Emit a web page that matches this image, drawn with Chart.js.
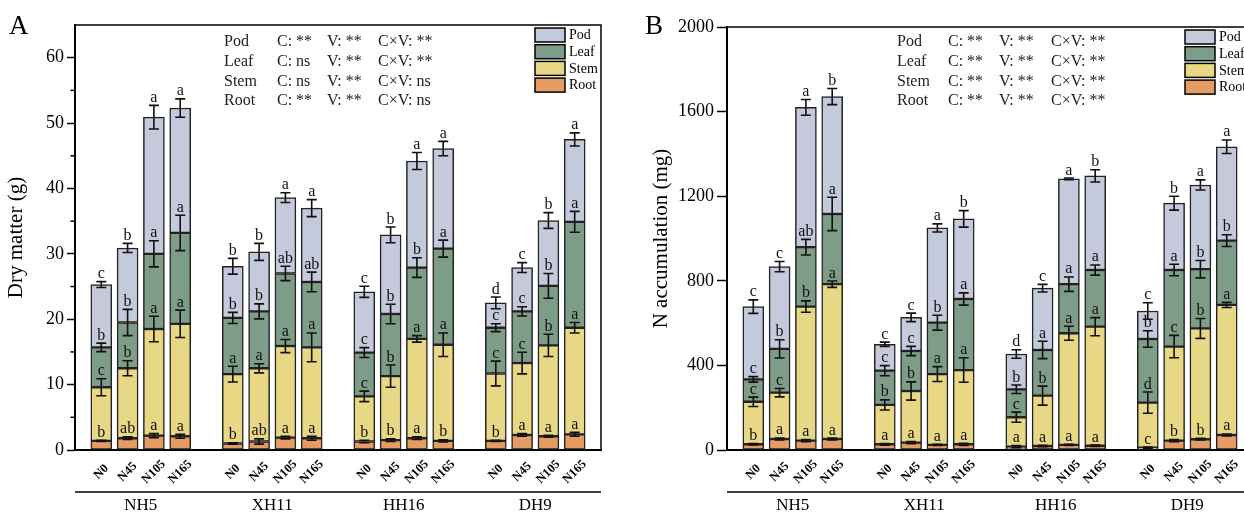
<!DOCTYPE html>
<html>
<head>
<meta charset="utf-8">
<script src="https://cdn.jsdelivr.net/npm/chart.js@4/dist/chart.umd.min.js"></script>
<style>
  html, body { margin: 0; padding: 0; background: #fff; overflow: hidden; width: 1244px; height: 515px; }
  .panel { position: absolute; top: 0; }
  #wrapA { left: 0; }
  #wrapB { left: 630px; }
</style>
</head>
<body>
<div class="panel" id="wrapA"><canvas id="chartA" width="625" height="515"></canvas></div>
<div class="panel" id="wrapB"><canvas id="chartB" width="640" height="515"></canvas></div>
<script>
const FONT = "'Liberation Serif', 'Times New Roman', serif";

const varieties = ['NH5', 'XH11', 'HH16', 'DH9'];
const nRates = ['N0', 'N45', 'N105', 'N165'];
const parts = ['Root', 'Stem', 'Leaf', 'Pod'];
const partColors = ['#e49c64', '#e8d785', '#7e9d89', '#c4c9db'];
const statRows = ['Pod', 'Leaf', 'Stem', 'Root'];

// A: dry matter (g), order NH5 N0..N165, XH11, HH16, DH9
const dmTicks = [0, 10, 20, 30, 40, 50, 60];
const dmMinorTicks = [5, 15, 25, 35, 45, 55];
const dmRoot = [1.4, 1.8, 2.2, 2.1, 1.0, 1.3, 1.9, 1.8, 1.3, 1.5, 1.8, 1.4, 1.4, 2.3, 2.1, 2.4];
const dmStem = [8.2, 10.7, 16.3, 17.2, 10.6, 11.2, 14.0, 13.9, 6.9, 9.8, 15.2, 14.7, 10.3, 11.0, 13.9, 16.3];
const dmLeaf = [6.1, 7.0, 11.5, 13.9, 8.6, 8.7, 11.1, 10.0, 6.7, 9.5, 10.9, 14.7, 7.0, 7.9, 9.1, 16.2];
const dmPod = [9.6, 11.4, 20.9, 19.1, 7.9, 9.1, 11.6, 11.3, 9.3, 12.1, 16.3, 15.3, 3.8, 6.7, 10.0, 12.6];
const dmRootErr = [0.1, 0.2, 0.3, 0.3, 0.1, 0.4, 0.2, 0.3, 0.2, 0.2, 0.2, 0.15, 0.1, 0.2, 0.15, 0.3];
const dmStemErr = [1.3, 1.15, 1.95, 2.1, 1.2, 0.7, 1.0, 2.2, 0.8, 1.7, 0.5, 1.8, 1.9, 1.65, 1.7, 0.8];
const dmLeafErr = [0.65, 2.0, 2.0, 2.7, 0.85, 1.15, 1.1, 1.5, 0.75, 1.5, 1.5, 1.3, 0.6, 0.7, 1.9, 1.6];
const dmPodErr = [0.45, 0.7, 1.8, 1.4, 1.2, 1.3, 0.75, 1.3, 0.85, 1.2, 1.3, 1.1, 0.9, 0.75, 1.2, 1.0];
const dmRootLet = ['b', 'ab', 'a', 'a', 'b', 'ab', 'a', 'a', 'b', 'b', 'a', 'b', 'b', 'a', 'a', 'a'];
const dmStemLet = ['c', 'b', 'a', 'a', 'a', 'a', 'a', 'a', 'c', 'b', 'a', 'a', 'c', 'c', 'b', 'a'];
const dmLeafLet = ['b', 'b', 'a', 'a', 'b', 'b', 'ab', 'ab', 'c', 'b', 'b', 'a', 'c', 'c', 'b', 'a'];
const dmPodLet = ['c', 'b', 'a', 'a', 'b', 'b', 'a', 'a', 'c', 'b', 'a', 'a', 'd', 'c', 'b', 'a'];
const dmC = ['**', 'ns', 'ns', '**'];
const dmV = ['**', '**', '**', '**'];
const dmCV = ['**', '**', 'ns', 'ns'];

// B: N accumulation (mg)
const nTicks = [0, 400, 800, 1200, 1600, 2000];
const nRoot = [27, 52, 44, 52, 27, 35, 24, 27, 16, 19, 24, 20, 11, 44, 51, 71];
const nStem = [201, 219, 634, 732, 186, 244, 335, 351, 139, 238, 528, 563, 213, 445, 524, 615];
const nLeaf = [106, 207, 281, 332, 162, 189, 243, 336, 132, 216, 232, 268, 301, 362, 280, 304];
const nPod = [344, 389, 661, 555, 125, 159, 448, 379, 167, 292, 498, 445, 132, 316, 398, 444];
const nRootErr = [3, 5, 5, 4, 4, 5, 3, 5, 5, 3, 3, 3, 3, 5, 4, 5];
const nStemErr = [22, 20, 27, 15, 24, 43, 35, 58, 24, 45, 33, 43, 50, 53, 47, 12];
const nLeafErr = [13, 43, 37, 79, 24, 22, 35, 29, 20, 41, 34, 24, 39, 27, 41, 28];
const nPodErr = [32, 24, 37, 38, 10, 20, 19, 39, 20, 18, 4, 29, 39, 33, 24, 32];
const nRootLet = ['b', 'a', 'a', 'a', 'a', 'a', 'a', 'a', 'a', 'a', 'a', 'a', 'c', 'b', 'b', 'a'];
const nStemLet = ['c', 'c', 'b', 'a', 'b', 'b', 'a', 'a', 'c', 'b', 'a', 'a', 'd', 'c', 'b', 'a'];
const nLeafLet = ['c', 'b', 'ab', 'a', 'c', 'c', 'b', 'a', 'b', 'a', 'a', 'a', 'b', 'a', 'b', 'b'];
const nPodLet = ['c', 'c', 'a', 'b', 'c', 'c', 'a', 'b', 'd', 'c', 'a', 'b', 'c', 'b', 'a', 'a'];
const nC = ['**', '**', '**', '**'];
const nV = ['**', '**', '**', '**'];
const nCV = ['**', '**', '**', '**'];

// 21 category slots: an empty one at each end and between the varieties
const SLOTS = 21;
const slotOf = i => 1 + Math.floor(i / 4) * 5 + (i % 4);
function toSlots(arr) {
  const out = new Array(SLOTS).fill(null);
  arr.forEach((v, i) => { out[slotOf(i)] = v; });
  return out;
}
const slotLabels = toSlots(varieties.flatMap(() => nRates)).map(v => v || '');

function decorPlugin(cfg) {
  return {
    id: 'decor',
    afterDatasetsDraw(chart) {
      const { ctx } = chart;
      const ys = chart.scales.y;
      ctx.save();
      ctx.strokeStyle = '#111';
      ctx.fillStyle = '#111';
      ctx.lineWidth = 1.6;
      ctx.font = `16px ${FONT}`;
      ctx.textAlign = 'center';
      ctx.textBaseline = 'alphabetic';
      chart.data.datasets.forEach((ds, di) => {
        const meta = chart.getDatasetMeta(di);
        cfg.errors[di].forEach((e, i) => {
          const bar = meta.data[slotOf(i)];
          const ePx = ys.getPixelForValue(0) - ys.getPixelForValue(e);
          const x = bar.x, yv = bar.y;
          ctx.beginPath();
          ctx.moveTo(x, yv - ePx); ctx.lineTo(x, yv + ePx);
          ctx.moveTo(x - 5, yv - ePx); ctx.lineTo(x + 5, yv - ePx);
          ctx.moveTo(x - 5, yv + ePx); ctx.lineTo(x + 5, yv + ePx);
          ctx.stroke();
          ctx.fillText(cfg.letters[di][i], x, yv - ePx - 3.5);
        });
      });
      ctx.restore();
    },
    afterDraw(chart) {
      const { ctx, chartArea: ca } = chart;
      const xs = chart.scales.x, ys = chart.scales.y;
      ctx.save();
      ctx.strokeStyle = '#000';
      ctx.fillStyle = '#000';
      // frame
      ctx.lineWidth = 1.5;
      ctx.beginPath();
      ctx.moveTo(ca.left, ca.top); ctx.lineTo(ca.right, ca.top); ctx.lineTo(ca.right, ca.bottom);
      ctx.stroke();
      // minor ticks
      (cfg.minorTicks || []).forEach(v => {
        const py = ys.getPixelForValue(v);
        ctx.beginPath(); ctx.moveTo(ca.left - 4.5, py); ctx.lineTo(ca.left, py); ctx.stroke();
      });
      // rotated N-rate labels
      ctx.font = `bold 12.5px ${FONT}`;
      ctx.textAlign = 'center';
      ctx.textBaseline = 'middle';
      slotLabels.forEach((lab, s) => {
        if (!lab) return;
        ctx.save();
        ctx.translate(xs.getPixelForValue(s), ca.bottom + 22);
        ctx.rotate(-Math.PI / 4);
        ctx.fillText(lab, 0, 0);
        ctx.restore();
      });
      // group line and variety labels
      ctx.beginPath(); ctx.moveTo(ca.left, ca.bottom + 42); ctx.lineTo(ca.right, ca.bottom + 42); ctx.stroke();
      ctx.font = `17px ${FONT}`;
      varieties.forEach((v, g) => {
        const x0 = xs.getPixelForValue(slotOf(g * 4)), x1 = xs.getPixelForValue(slotOf(g * 4 + 3));
        ctx.fillText(v, (x0 + x1) / 2, ca.bottom + 56);
      });
      // statistics
      ctx.font = `16px ${FONT}`;
      ctx.textAlign = 'left';
      ctx.fillStyle = '#222';
      statRows.forEach((r, k) => {
        const y = ca.top + cfg.statY0 + k * 19.7;
        const cols = [r, 'C: ' + cfg.stats[0][k], 'V: ' + cfg.stats[1][k], 'C×V: ' + cfg.stats[2][k]];
        cols.forEach((t, c) => ctx.fillText(t, ca.left + cfg.statX[c], y));
      });
      // legend, Pod on top
      ctx.font = `14px ${FONT}`;
      ctx.lineWidth = 1.5;
      const ds = chart.data.datasets;
      for (let k = 0; k < ds.length; k++) {
        const d = ds[ds.length - 1 - k];
        const bx = ca.right - cfg.legendDX, by = ca.top + 3 + k * 16.7;
        ctx.fillStyle = d.backgroundColor;
        ctx.fillRect(bx, by, 30, 14);
        ctx.strokeRect(bx, by, 30, 14);
        ctx.fillStyle = '#000';
        ctx.fillText(d.label, bx + 34, by + 7.5);
      }
      // panel letter
      ctx.font = `27px ${FONT}`;
      ctx.textBaseline = 'alphabetic';
      ctx.fillText(cfg.panel, cfg.panelX, 34);
      ctx.restore();
    }
  };
}

function makeChart(id, cfg) {
  const datasets = parts.map((p, k) => ({
    label: p,
    data: toSlots(cfg.values[k]),
    backgroundColor: partColors[k],
    borderColor: '#222',
    borderWidth: 1.5,
    borderSkipped: false,
    barThickness: 21
  }));
  return new Chart(document.getElementById(id), {
    type: 'bar',
    data: { labels: slotLabels, datasets },
    options: {
      responsive: false,
      animation: false,
      layout: { padding: { left: 0, right: cfg.padRight, top: cfg.padTop, bottom: 0 } },
      plugins: { legend: { display: false }, tooltip: { enabled: false } },
      scales: {
        x: {
          stacked: true,
          offset: false,
          afterFit: s => { s.height = 65; },
          border: { display: true, color: '#000', width: 2 },
          grid: { display: false },
          ticks: { display: false }
        },
        y: {
          stacked: true,
          min: 0,
          max: cfg.max,
          afterFit: s => { s.width = cfg.yWidth; },
          afterBuildTicks: s => { s.ticks = cfg.ticks.map(v => ({ value: v })); },
          border: { display: true, color: '#000', width: 2 },
          grid: { drawOnChartArea: false, drawTicks: true, tickLength: cfg.tickLen, tickColor: '#000', tickWidth: 1.5 },
          ticks: { color: '#000', font: { family: FONT, size: 18 }, padding: 3, callback: v => String(v) },
          title: { display: true, text: cfg.title, color: '#000', font: { family: FONT, size: 21 }, padding: { top: cfg.titlePad, bottom: 0 } }
        }
      }
    },
    plugins: [decorPlugin(cfg)]
  });
}

makeChart('chartA', {
  panel: 'A', panelX: 9,
  values: [dmRoot, dmStem, dmLeaf, dmPod],
  errors: [dmRootErr, dmStemErr, dmLeafErr, dmPodErr],
  letters: [dmRootLet, dmStemLet, dmLeafLet, dmPodLet],
  stats: [dmC, dmV, dmCV],
  statX: [149, 202, 252, 303], statY0: 17,
  legendDX: 66,
  ticks: dmTicks, minorTicks: dmMinorTicks, max: 65,
  yWidth: 75, padRight: 24, padTop: 25, tickLen: 8, titlePad: 4,
  title: 'Dry matter (g)'
});

makeChart('chartB', {
  panel: 'B', panelX: 15,
  values: [nRoot, nStem, nLeaf, nPod],
  errors: [nRootErr, nStemErr, nLeafErr, nPodErr],
  letters: [nRootLet, nStemLet, nLeafLet, nPodLet],
  stats: [nC, nV, nCV],
  statX: [170, 221, 272, 324], statY0: 15,
  legendDX: 68,
  ticks: nTicks, minorTicks: [], max: 2000,
  yWidth: 97, padRight: 17, padTop: 27, tickLen: 10, titlePad: 19,
  title: 'N accumulation (mg)'
});
</script>
</body>
</html>
